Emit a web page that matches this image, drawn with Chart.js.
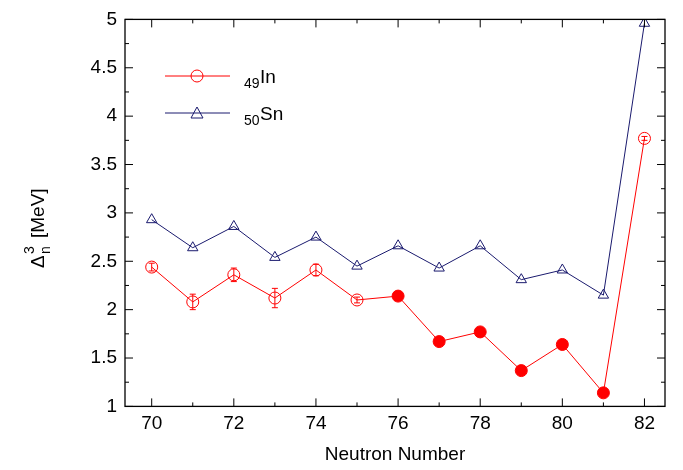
<!DOCTYPE html>
<html><head>
<script src="https://cdn.jsdelivr.net/npm/chart.js@4"></script>
<style>body{margin:0;background:#fff}#wrap{width:683px;height:470px}</style>
</head><body><div id="wrap"><canvas id="c"></canvas></div>
<script>
const neutrons = [70,71,72,73,74,75,76,77,78,79,80,81,82];
const inVals = [2.44,2.08,2.36,2.12,2.41,2.10,2.14,1.67,1.77,1.37,1.64,1.14,3.77];
const inErr = [0.04,0.08,0.07,0.1,0.06,0.03,0.02,0.02,0.02,0.02,0.02,0.02,0.02];
const snVals = [2.93,2.64,2.86,2.54,2.75,2.45,2.66,2.43,2.66,2.31,2.41,2.15,4.96];
const yTicks = [1,1.5,2,2.5,3,3.5,4,4.5,5];
const FONT = 'Liberation Sans';

const inFill = neutrons.map(n => (n >= 76 && n <= 81) ? 'red' : 'rgba(0,0,0,0)');

const extras = {
  id: 'extras',
  afterDatasetsDraw(chart) {
    const { ctx, chartArea: a, scales: { x, y } } = chart;
    ctx.save();
    // error bars
    ctx.strokeStyle = 'red'; ctx.lineWidth = 1;
    neutrons.forEach((n, i) => {
      const px = x.getPixelForValue(n);
      const t = y.getPixelForValue(inVals[i] + inErr[i]), b = y.getPixelForValue(inVals[i] - inErr[i]);
      ctx.beginPath(); ctx.moveTo(px, t); ctx.lineTo(px, b);
      ctx.moveTo(px - 3, t); ctx.lineTo(px + 3, t);
      ctx.moveTo(px - 3, b); ctx.lineTo(px + 3, b); ctx.stroke();
    });
    // frame
    ctx.strokeStyle = '#000'; ctx.lineWidth = 1.3;
    ctx.strokeRect(a.left, a.top, a.right - a.left, a.bottom - a.top);
    // ticks inward
    ctx.lineWidth = 1;
    neutrons.forEach(n => {
      const px = x.getPixelForValue(n), len = n % 2 === 0 ? 8 : 4;
      ctx.beginPath(); ctx.moveTo(px, a.bottom); ctx.lineTo(px, a.bottom - len);
      ctx.moveTo(px, a.top); ctx.lineTo(px, a.top + len); ctx.stroke();
    });
    for (let v = 1; v <= 5.001; v += 0.25) {
      const py = y.getPixelForValue(v), len = Math.abs(v * 2 - Math.round(v * 2)) < 0.01 ? 8 : 4;
      ctx.beginPath(); ctx.moveTo(a.left, py); ctx.lineTo(a.left + len, py);
      ctx.moveTo(a.right, py); ctx.lineTo(a.right - len, py); ctx.stroke();
    }
    // legend
    const items = [
      { col: 'red', style: 'circle', sub: '49', name: 'In', yy: 76 },
      { col: '#1a1a6e', style: 'triangle', sub: '50', name: 'Sn', yy: 113 }
    ];
    items.forEach(it => {
      ctx.strokeStyle = it.col; ctx.lineWidth = 1;
      ctx.beginPath(); ctx.moveTo(165, it.yy); ctx.lineTo(230, it.yy); ctx.stroke();
      ctx.beginPath();
      if (it.style === 'circle') ctx.arc(197, it.yy, 6, 0, Math.PI * 2);
      else { ctx.moveTo(197, it.yy - 6); ctx.lineTo(203, it.yy + 5); ctx.lineTo(191, it.yy + 5); ctx.closePath(); }
      ctx.stroke();
      ctx.fillStyle = '#000'; ctx.textBaseline = 'alphabetic';
      ctx.font = `14px ${FONT}`; ctx.fillText(it.sub, 244, it.yy + 12);
      ctx.font = `19px ${FONT}`; ctx.fillText(it.name, 260, it.yy + 7);
    });
    // y title
    ctx.translate(44, 210); ctx.rotate(-Math.PI / 2);
    ctx.fillStyle = '#000'; ctx.textAlign = 'left';
    ctx.font = `19px ${FONT}`; ctx.fillText('\u0394', -58, 0);
    ctx.font = `14px ${FONT}`; ctx.fillText('3', -44, -10); ctx.fillText('n', -44, 6);
    ctx.font = `19px ${FONT}`; ctx.fillText('[MeV]', -28, 0);
    ctx.restore();
  }
};

new Chart(document.getElementById('c'), {
  type: 'line',
  data: {
    datasets: [
      { label: '49In', data: neutrons.map((n, i) => ({ x: n, y: inVals[i] })),
        borderColor: 'red', borderWidth: 1, pointStyle: 'circle', pointRadius: 6,
        pointBorderColor: 'red', pointBackgroundColor: inFill, pointBorderWidth: 1 },
      { label: '50Sn', data: neutrons.map((n, i) => ({ x: n, y: snVals[i] })),
        borderColor: '#1a1a6e', borderWidth: 1, pointStyle: 'triangle', pointRadius: 6,
        pointBorderColor: '#1a1a6e', pointBackgroundColor: 'rgba(0,0,0,0)', pointBorderWidth: 1 }
    ]
  },
  options: {
    responsive: true, maintainAspectRatio: false, animation: false,
    layout: { padding: { top: 8, right: 18, left: 0, bottom: 0 } },
    plugins: { legend: { display: false }, tooltip: { enabled: false } },
    scales: {
      x: { type: 'linear', min: 69.35, max: 82.5,
        afterBuildTicks: s => { s.ticks = neutrons.filter(n => n % 2 === 0).map(v => ({ value: v })); },
        grid: { display: false, drawTicks: false }, border: { display: false },
        ticks: { color: '#000', font: { family: FONT, size: 19 }, padding: 6 },
        title: { display: true, text: 'Neutron Number', color: '#000', font: { family: FONT, size: 19 }, padding: { top: 2 } } },
      y: { min: 1, max: 5,
        afterBuildTicks: s => { s.ticks = yTicks.map(v => ({ value: v })); },
        afterFit: s => { s.width = 125; },
        grid: { display: false, drawTicks: false }, border: { display: false },
        ticks: { color: '#000', font: { family: FONT, size: 19 }, padding: 8, callback: v => String(v) } }
    }
  },
  plugins: [extras]
});
</script></body></html>
